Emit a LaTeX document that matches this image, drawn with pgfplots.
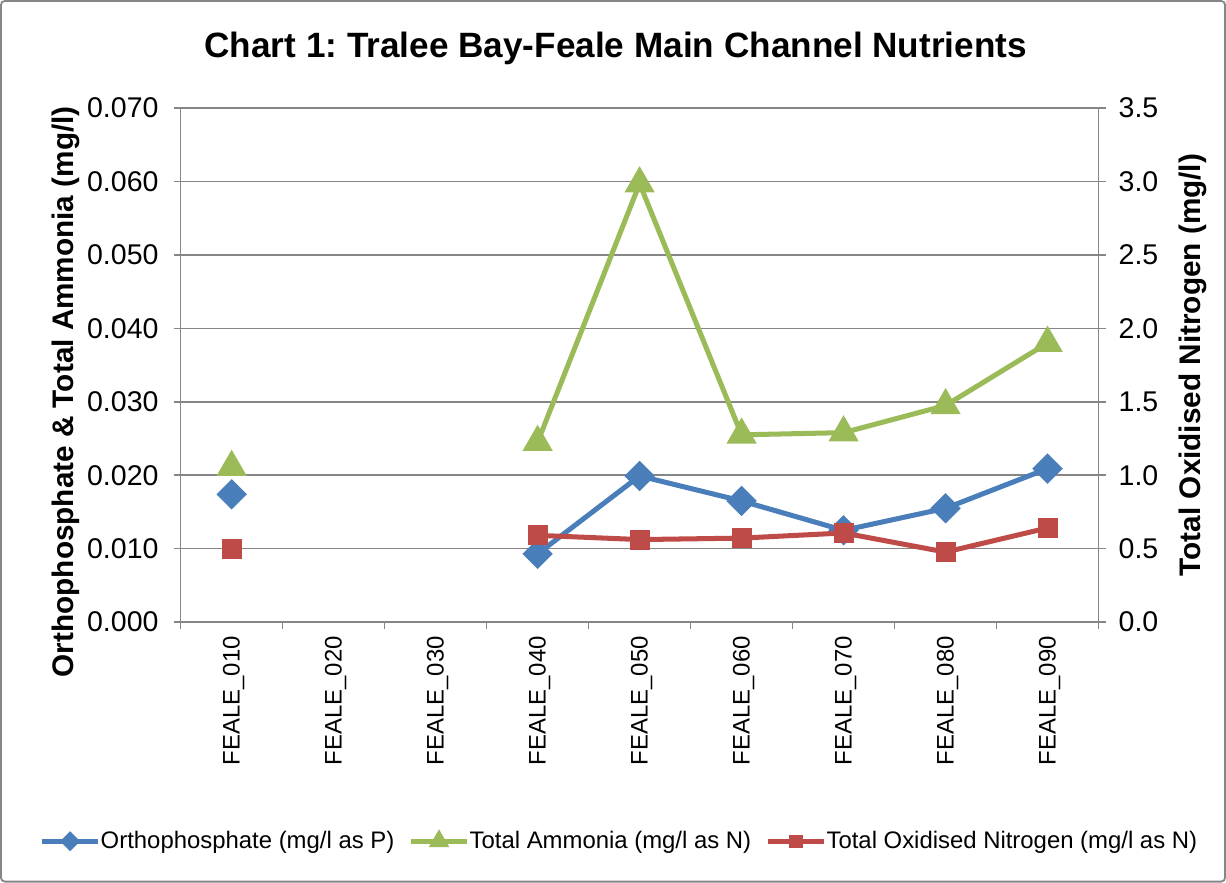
\documentclass[border=0pt]{standalone}
\usepackage{pgfplots}
\pgfplotsset{compat=1.18}
\usepackage{fontspec}
\setmainfont{Liberation Sans}
\frenchspacing
\definecolor{cblue}{HTML}{4A7EBB}
\definecolor{cgreen}{HTML}{9BBB59}
\definecolor{cred}{HTML}{BE4B48}
\definecolor{axgray}{HTML}{868686}
\begin{document}
\begin{tikzpicture}
\draw[axgray, line width=0.9pt, rounded corners=2pt] (-89.5pt,-129.2pt) rectangle (520pt,309.3pt);
\begin{axis}[
  scale only axis, width=457pt, height=256pt,
  xmin=-0.5, xmax=8.5, ymin=0, ymax=0.07,
  unbounded coords=jump,
  xtick={0,...,8},
  xticklabels={FEALE\_010,FEALE\_020,FEALE\_030,FEALE\_040,FEALE\_050,FEALE\_060,FEALE\_070,FEALE\_080,FEALE\_090},
  major x tick style={draw=none},
  minor xtick={-0.5,0.5,1.5,2.5,3.5,4.5,5.5,6.5,7.5,8.5},
  ytick={0,0.01,0.02,0.03,0.04,0.05,0.06,0.07},
  scaled y ticks=false,
  tick align=outside,
  ymajorgrids, grid style={axgray, line width=0.75pt},
  axis x line*=bottom, axis y line*=left,
  axis line style={axgray, line width=0.75pt},
  tick style={axgray, line width=0.75pt},
  major tick length=3.5pt, minor tick length=3.5pt,
  /pgf/number format/assume math mode=true,
  x tick label style={rotate=90, anchor=east, font=\fontsize{11.9}{12}\selectfont, yshift=-1pt},
  y tick label style={font=\fontsize{14.2}{15}\selectfont, xshift=-4pt},
  yticklabel style={/pgf/number format/fixed, /pgf/number format/fixed zerofill, /pgf/number format/precision=3},
  ylabel={Orthophosphate \& Total Ammonia (mg/l)},
  ylabel style={at={(axis description cs:-0.1255,0.448)}, anchor=center, font=\bfseries\fontsize{14.8}{15}\selectfont},
  title={Chart 1: Tralee Bay-Feale Main Channel Nutrients},
  title style={at={(axis description cs:0.474,1.093)}, anchor=center, font=\bfseries\fontsize{17.5}{18}\selectfont},
  legend columns=3,
  legend cell align=left,
  legend style={at={(axis description cs:0.479,-0.426)}, anchor=center, draw=none, font=\fontsize{11.9}{12}\selectfont,
    /tikz/every odd column/.append style={column sep=-2pt},
    /tikz/every even column/.append style={column sep=5pt}},
  legend image code/.code={\draw[mark repeat=2, mark phase=2, every mark/.append style={scale=0.55}] plot coordinates {(0pt,0pt) (14pt,0pt) (28pt,0pt)};},
]
\addplot[cblue, line width=2.5pt, mark=square*, mark size=4.1pt, mark options={rotate=45, solid}]
  coordinates {(0,0.0174) (1,nan) (2,nan) (3,0.0093) (4,0.0199) (5,0.0165) (6,0.0125) (7,0.0155) (8,0.0209)};
\addlegendentry{Orthophosphate (mg/l as P)}
\addplot[cgreen, line width=2.5pt, mark=triangle*, mark size=6.2pt, mark options={solid}]
  coordinates {(0,0.0211) (1,nan) (2,nan) (3,0.0245) (4,0.0597) (5,0.0255) (6,0.0258) (7,0.0295) (8,0.0380)};
\addlegendentry{Total Ammonia (mg/l as N)}
\addlegendimage{cred, line width=2.5pt, mark=square*, mark size=3.7pt, mark options={solid}}
\addlegendentry{Total Oxidised Nitrogen (mg/l as N)}
\end{axis}
\begin{axis}[
  scale only axis, width=457pt, height=256pt,
  xmin=-0.5, xmax=8.5, ymin=0, ymax=3.5,
  unbounded coords=jump,
  axis x line=none, axis y line*=right,
  ytick={0,0.5,1,1.5,2,2.5,3,3.5},
  scaled y ticks=false,
  tick align=outside,
  axis line style={axgray, line width=0.75pt},
  tick style={axgray, line width=0.75pt},
  major tick length=3.5pt,
  /pgf/number format/assume math mode=true,
  y tick label style={font=\fontsize{14.2}{15}\selectfont, xshift=3pt},
  yticklabel style={/pgf/number format/fixed, /pgf/number format/fixed zerofill, /pgf/number format/precision=1},
  ylabel={Total Oxidised Nitrogen (mg/l)},
  ylabel style={at={(axis description cs:1.103,0.5)}, anchor=center, rotate=0, font=\bfseries\fontsize{14.8}{15}\selectfont},
]
\addplot[cred, line width=2.5pt, mark=square*, mark size=3.7pt, mark options={solid}]
  coordinates {(0,0.500) (1,nan) (2,nan) (3,0.591) (4,0.562) (5,0.572) (6,0.607) (7,0.477) (8,0.641)};
\end{axis}
\end{tikzpicture}
\end{document}
